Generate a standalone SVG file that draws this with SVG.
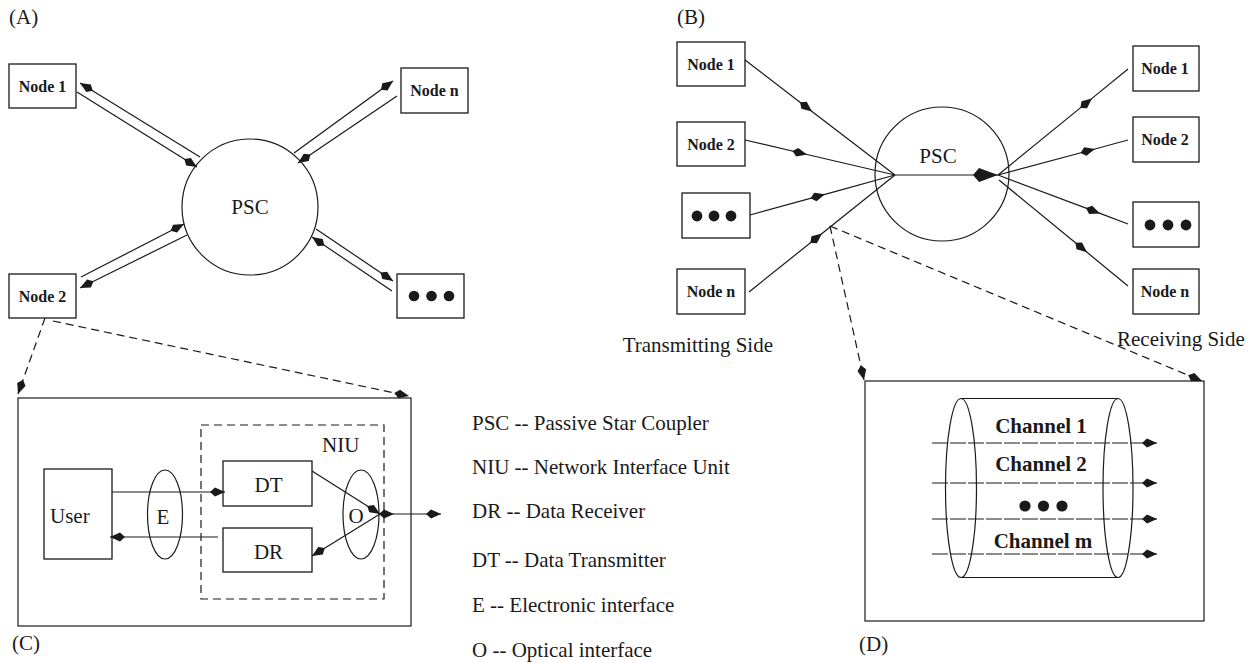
<svg xmlns="http://www.w3.org/2000/svg" width="1260" height="663" viewBox="0 0 1260 663">
<style>
text{font-family:"Liberation Serif","Times New Roman",serif;fill:#1a1a1a}
.t{font-size:21px}
.nb{font-size:16px;font-weight:bold;text-anchor:middle}
.cb{font-size:21px;font-weight:bold;text-anchor:middle}
.box{fill:#fff;stroke:#1a1a1a;stroke-width:1.3}
.sh{fill:none;stroke:#1a1a1a;stroke-width:1.2}
.ln{fill:none;stroke:#1a1a1a;stroke-width:1.2}
.dash{fill:none;stroke:#1a1a1a;stroke-width:1.2;stroke-dasharray:8 5}
.ch{fill:none;stroke:#1a1a1a;stroke-width:1.2;stroke-dasharray:16 2}
.dot{fill:#1a1a1a}
</style>
<defs>
<marker id="ah" markerUnits="userSpaceOnUse" markerWidth="15" markerHeight="10" viewBox="0 0 15 10" refX="15" refY="5" orient="auto"><path d="M0,5 L5,0.6 L15,5 L5,9.4 Z" fill="#1a1a1a"/></marker>
<marker id="ahBig" markerUnits="userSpaceOnUse" markerWidth="25" markerHeight="15" viewBox="0 0 25 15" refX="25" refY="7.5" orient="auto"><path d="M0,7.5 L6,0.5 L25,7.5 L6,14.5 Z" fill="#1a1a1a"/></marker>
</defs>
<rect width="1260" height="663" fill="#fff"/>

<!-- Panel labels -->
<text class="t" x="9" y="24">(A)</text>
<text class="t" x="677" y="24">(B)</text>
<text class="t" x="12" y="650">(C)</text>
<text class="t" x="859" y="651">(D)</text>
<text class="t" x="773" y="352" text-anchor="end">Transmitting Side</text>
<text class="t" x="1117" y="346">Receiving Side</text>

<!-- Panel A nodes -->
<g id="a-psc"><circle class="sh" cx="250" cy="207" r="68"/><text class="t" x="250" y="214" text-anchor="middle">PSC</text></g>
<g id="a-node1"><rect class="box" x="9" y="64" width="67" height="44"/><text class="nb" x="42.5" y="92">Node 1</text></g>
<g id="a-noden"><rect class="box" x="401" y="68" width="67" height="45"/><text class="nb" x="434.5" y="96">Node n</text></g>
<g id="a-node2"><rect class="box" x="9" y="274" width="67" height="44"/><text class="nb" x="42.5" y="302">Node 2</text></g>
<g id="a-dots"><rect class="box" x="397" y="274" width="67" height="44"/><circle class="dot" cx="414" cy="296" r="5.3"/><circle class="dot" cx="431.5" cy="296" r="5.3"/><circle class="dot" cx="449" cy="296" r="5.3"/></g>

<!-- Panel B nodes -->
<g id="b-psc"><circle class="sh" cx="942" cy="174" r="67"/><text class="t" x="938" y="163" text-anchor="middle">PSC</text></g>
<g id="b-tx1"><rect class="box" x="677" y="42" width="68" height="44"/><text class="nb" x="711" y="69.5">Node 1</text></g>
<g id="b-tx2"><rect class="box" x="677" y="122" width="68" height="44"/><text class="nb" x="711" y="149.5">Node 2</text></g>
<g id="b-txdots"><rect class="box" x="682" y="193" width="68" height="45"/><circle class="dot" cx="697" cy="216" r="5.4"/><circle class="dot" cx="714" cy="216" r="5.4"/><circle class="dot" cx="731" cy="216" r="5.4"/></g>
<g id="b-txn"><rect class="box" x="677" y="269" width="68" height="45"/><text class="nb" x="711" y="297">Node n</text></g>
<g id="b-rx1"><rect class="box" x="1133" y="46" width="66" height="45"/><text class="nb" x="1165" y="74">Node 1</text></g>
<g id="b-rx2"><rect class="box" x="1133" y="117" width="66" height="45"/><text class="nb" x="1165" y="145">Node 2</text></g>
<g id="b-rxdots"><rect class="box" x="1133" y="202" width="66" height="45"/><circle class="dot" cx="1150" cy="225" r="5.4"/><circle class="dot" cx="1168" cy="225" r="5.4"/><circle class="dot" cx="1186" cy="225" r="5.4"/></g>
<g id="b-rxn"><rect class="box" x="1133" y="269" width="66" height="45"/><text class="nb" x="1165" y="297">Node n</text></g>

<!-- Panel C -->
<g id="c-frame"><rect class="sh" x="18" y="398" width="393" height="228"/></g>
<g id="c-niu"><rect class="dash" x="201" y="425" width="183" height="174"/><text class="t" x="322" y="452">NIU</text></g>
<g id="c-user"><rect class="box" x="44" y="469" width="68" height="90"/><text class="t" x="50" y="523">User</text></g>
<g id="c-e"><ellipse class="sh" cx="165" cy="514.5" rx="17.5" ry="44.5"/><text class="t" x="163" y="524" text-anchor="middle">E</text></g>
<g id="c-dt"><rect class="box" x="223" y="461" width="89" height="45"/><text class="t" x="268.5" y="492" text-anchor="middle">DT</text></g>
<g id="c-dr"><rect class="box" x="223" y="528" width="89" height="44"/><text class="t" x="268.5" y="559" text-anchor="middle">DR</text></g>
<g id="c-o"><ellipse class="sh" cx="361" cy="514.5" rx="18" ry="44.5"/><text class="t" x="356" y="523" text-anchor="middle">O</text></g>

<!-- Panel D -->
<g id="d-frame"><rect class="sh" x="865" y="381" width="339" height="240"/></g>
<g id="d-fiber">
<ellipse class="sh" cx="961" cy="488" rx="15.5" ry="89.5"/>
<ellipse class="sh" cx="1118" cy="488" rx="15" ry="89.5"/>
<line class="ln" x1="961" y1="398.5" x2="1118" y2="398.5"/>
<line class="ln" x1="961" y1="577.5" x2="1118" y2="577.5"/>
<text class="cb" x="1041" y="433">Channel 1</text>
<text class="cb" x="1041" y="471">Channel 2</text>
<circle class="dot" cx="1025" cy="506" r="5.6"/><circle class="dot" cx="1043.5" cy="506" r="5.6"/><circle class="dot" cx="1062" cy="506" r="5.6"/>
<text class="cb" x="1043" y="548">Channel m</text>
</g>

<!-- Legend -->
<g id="legend">
<text class="t" x="472" y="430">PSC -- Passive Star Coupler</text>
<text class="t" x="472" y="474">NIU -- Network Interface Unit</text>
<text class="t" x="472" y="518">DR -- Data Receiver</text>
<text class="t" x="472" y="567">DT -- Data Transmitter</text>
<text class="t" x="472" y="612">E -- Electronic interface</text>
<text class="t" x="472" y="657">O -- Optical interface</text>
</g>

<!-- Connectors -->
<g id="connectors">
<!-- A -->
<line class="ln" x1="200" y1="157" x2="80" y2="83" marker-end="url(#ah)"/>
<line class="ln" x1="77" y1="92" x2="197" y2="167" marker-end="url(#ah)"/>
<line class="ln" x1="294" y1="153" x2="393" y2="81" marker-end="url(#ah)"/>
<line class="ln" x1="397" y1="96" x2="298" y2="163" marker-end="url(#ah)"/>
<line class="ln" x1="81" y1="277" x2="184" y2="224" marker-end="url(#ah)"/>
<line class="ln" x1="187" y1="235" x2="80" y2="288" marker-end="url(#ah)"/>
<line class="ln" x1="316" y1="229" x2="393" y2="281" marker-end="url(#ah)"/>
<line class="ln" x1="392" y1="291" x2="312" y2="237" marker-end="url(#ah)"/>
<!-- A to C zoom -->
<line class="dash" x1="45" y1="318" x2="18" y2="394" marker-end="url(#ah)"/>
<line class="dash" x1="53" y1="321" x2="409" y2="396" marker-end="url(#ah)"/>
<!-- B transmit side -->
<path class="ln" d="M745,60 L812,111.4 L895,175" marker-mid="url(#ah)"/>
<path class="ln" d="M745,140 L807,154.5 L895,175" marker-mid="url(#ah)"/>
<path class="ln" d="M750,215 L825,194.3 L895,175" marker-mid="url(#ah)"/>
<path class="ln" d="M749,292 L822,233.5 L895,175" marker-mid="url(#ah)"/>
<line class="ln" x1="895" y1="175" x2="998" y2="175" marker-end="url(#ahBig)"/>
<!-- B receive side -->
<path class="ln" d="M998,175 L1092,98.4 L1128,69" marker-mid="url(#ah)"/>
<path class="ln" d="M998,175 L1095,149 L1128,140" marker-mid="url(#ah)"/>
<path class="ln" d="M998,175 L1100,213.4 L1128,224" marker-mid="url(#ah)"/>
<path class="ln" d="M999,180 L1087,252.3 L1128,286" marker-mid="url(#ah)"/>
<!-- B to D zoom -->
<line class="dash" x1="830" y1="226" x2="864" y2="380" marker-end="url(#ah)"/>
<line class="dash" x1="830" y1="226" x2="1202" y2="381" marker-end="url(#ah)"/>
<!-- C internal -->
<line class="ln" x1="112" y1="492" x2="225" y2="492" marker-end="url(#ah)"/>
<line class="ln" x1="218" y1="537" x2="110" y2="537" marker-end="url(#ah)"/>
<line class="ln" x1="312" y1="471" x2="380" y2="514" marker-end="url(#ah)"/>
<line class="ln" x1="380" y1="514" x2="312" y2="556" marker-end="url(#ah)"/>
<path class="ln" d="M379,514 L394,514 L441,514" marker-mid="url(#ah)" marker-end="url(#ah)"/>
<!-- D channels -->
<line class="ch" x1="932" y1="443" x2="1157" y2="443" marker-end="url(#ah)"/>
<line class="ch" x1="932" y1="483" x2="1157" y2="483" marker-end="url(#ah)"/>
<line class="ch" x1="932" y1="519" x2="1157" y2="519" marker-end="url(#ah)"/>
<line class="ch" x1="932" y1="554" x2="1157" y2="554" marker-end="url(#ah)"/>
</g>
</svg>
